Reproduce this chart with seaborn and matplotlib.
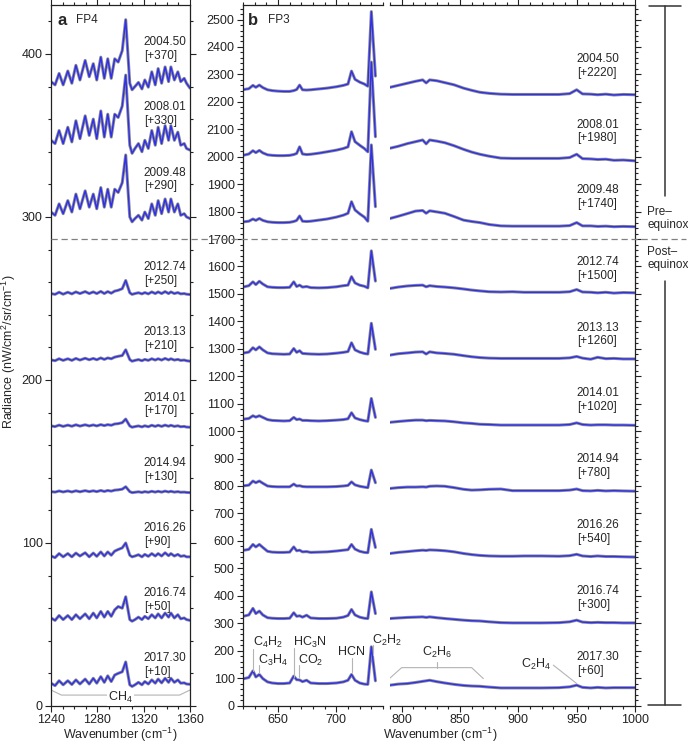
import numpy as np
import seaborn as sns
import matplotlib.pyplot as plt
from matplotlib.lines import Line2D
from matplotlib.ticker import MultipleLocator

sns.set_theme(style="ticks")
plt.rcParams["font.family"] = ["Liberation Sans", "DejaVu Sans"]
plt.rcParams["mathtext.fontset"] = "custom"
plt.rcParams["mathtext.rm"] = "Liberation Sans"
plt.rcParams["mathtext.it"] = "Liberation Sans:italic"
plt.rcParams["mathtext.bf"] = "Liberation Sans:bold"

# ---- data (radiance, nW/cm2/sr/cm-1, without the plotting offset) ----
dates = ["2004.50", "2008.01", "2009.48", "2012.74", "2013.13",
         "2014.01", "2014.94", "2016.26", "2016.74", "2017.30"]
pre_equinox = [True, True, True, False, False, False, False, False, False, False]
fp4_offsets = [370, 330, 290, 250, 210, 170, 130, 90, 50, 10]
fp3_offsets = [2220, 1980, 1740, 1500, 1260, 1020, 780, 540, 300, 60]

# FP4 (CH4 band)
fp4_wn = [1240, 1243.5, 1247, 1250.5, 1254.5, 1258, 1261.5, 1265, 1269.5, 1273,
          1276.5, 1279.5, 1283, 1286, 1289, 1292, 1295, 1298, 1301.5, 1304.5,
          1308, 1310, 1312.5, 1315.5, 1318.5, 1321, 1324, 1327, 1330, 1332.5,
          1335.5, 1338.5, 1341.5, 1343.5, 1346.5, 1349.5, 1352, 1355, 1357, 1360]
fp4_2004_50 = [13, 11, 18, 11, 19.5, 12, 23, 14, 26, 16, 24, 14, 28, 15, 27, 15, 27, 25, 32, 51,
               12, 8, 10, 12.5, 8.5, 14, 9.6, 19, 11, 21, 12, 22, 13, 22, 14, 19, 13, 15, 12, 9]
fp4_2008_01 = [17, 15, 23, 15, 25, 16, 29, 18, 32, 20, 30, 18, 35, 19, 33, 19, 33, 31, 38, 57,
               14, 9, 12, 15, 10, 17, 12, 23, 14, 25, 15, 26, 17, 26, 17, 22, 14, 15, 12, 11]
fp4_2009_48 = [13, 11, 18, 12, 20, 13, 24, 15, 26, 16, 24, 15, 28, 16, 27, 16, 27, 25, 31, 48,
               10, 7, 9, 11, 8, 13, 9, 18, 11, 20, 12, 21, 13, 21, 13, 18, 11, 12, 10, 9]
fp4_2012_74 = [3, 2.5, 3.8, 2.6, 3.8, 2.8, 4, 3, 4.2, 3, 4, 3, 4.3, 3, 4.2, 3.2, 4.5, 5, 6, 11,
               3.5, 2.5, 3, 3.5, 2.8, 3.6, 2.8, 4, 3, 4, 3, 4.2, 3, 4, 3, 3.6, 2.8, 3, 2.6, 2.4]
fp4_2013_13 = [2.3, 1.8, 3, 2, 3, 2, 3.2, 2.2, 3.3, 2.4, 3.2, 2.4, 3.5, 2.6, 3.5, 3, 4, 4.5, 5, 8.5,
               2.5, 1.5, 2, 2.5, 1.8, 2.6, 2, 3, 2.2, 3, 2.2, 3.2, 2.3, 3, 2.2, 2.6, 2, 2.2, 1.8, 1.5]
fp4_2014_01 = [1.8, 1.4, 2.3, 1.5, 2.3, 1.6, 2.5, 1.7, 2.5, 1.8, 2.4, 1.8, 2.6, 2, 2.6, 2.2, 3, 3.2, 3.8, 6,
               1.8, 1, 1.4, 1.8, 1.2, 1.9, 1.3, 2.2, 1.5, 2.2, 1.5, 2.3, 1.6, 2.2, 1.5, 1.9, 1.3, 1.5, 1.1, 1]
fp4_2014_94 = [1.5, 1.2, 1.9, 1.3, 1.9, 1.3, 2, 1.4, 2.1, 1.5, 2, 1.5, 2.2, 1.6, 2.2, 1.8, 2.4, 2.6, 3, 4.5,
               1.5, 0.9, 1.1, 1.4, 1, 1.5, 1.1, 1.7, 1.2, 1.7, 1.2, 1.8, 1.3, 1.7, 1.2, 1.5, 1.1, 1.2, 1, 0.9]
fp4_2016_26 = [2, 1, 3.5, 1.5, 3.5, 1.5, 3.8, 2, 4, 1.5, 3.8, 1.8, 4.5, 2, 4.5, 2.5, 5, 6, 7, 10,
               2.5, 1.5, 2, 2.8, 1.5, 3, 1.8, 3.5, 2, 3.5, 2, 4, 2.2, 3.5, 2, 3, 1.8, 2.2, 1.5, 1.5]
fp4_2016_74 = [4, 2.5, 5.5, 3, 5.5, 3, 6, 3.5, 6.5, 3.5, 7, 4, 8, 4.5, 8, 5, 9, 11, 10, 17,
               3, 2, 3, 4.5, 3, 5, 3.5, 6, 4, 6.5, 4, 7, 4.5, 7, 4, 6, 3.5, 4, 3, 2.5]
fp4_2017_30 = [4, 2.5, 5.5, 3, 5.5, 3.2, 6, 3.5, 6.5, 3.5, 7, 4, 8, 4.5, 8.5, 5, 9, 10, 11, 17,
               3, 2, 3, 4.5, 3, 5, 3.5, 6, 4, 6.5, 4.2, 7, 4.5, 7, 4.5, 6, 4, 4.2, 3.5, 3.3]
fp4_series = [fp4_2004_50, fp4_2008_01, fp4_2009_48, fp4_2012_74, fp4_2013_13,
              fp4_2014_01, fp4_2014_94, fp4_2016_26, fp4_2016_74, fp4_2017_30]

# FP3, 620-740 cm-1
fp3a_wn = [621, 625, 628.5, 631, 634, 637, 641, 645, 650, 655, 660, 663.5, 666, 668.5, 671,
           674.5, 678, 685, 692, 700, 706, 710, 713, 716, 720, 724, 727, 730, 733.5]
fp3a_2004_50 = [25, 28, 40, 33, 41, 32, 24, 21, 19, 18, 18, 21, 25, 41, 24,
                23, 24, 27, 30, 35, 40, 45, 92, 62, 52, 45, 37, 309, 74]
fp3a_2008_01 = [26, 30, 42, 35, 43, 34, 27, 25, 24, 24, 25, 28, 32, 56, 30,
                28, 29, 33, 38, 44, 50, 56, 111, 75, 62, 50, 38, 365, 93]
fp3a_2009_48 = [23, 25, 33, 28, 35, 28, 23, 21, 20, 20, 21, 24, 28, 44, 25,
                24, 25, 29, 33, 40, 47, 54, 96, 66, 52, 40, 25, 303, 78]
fp3a_2012_74 = [26, 30, 44, 34, 46, 36, 26, 24, 23, 23, 24, 44, 27, 32, 25,
                27, 23, 22, 23, 26, 30, 32, 63, 40, 32, 28, 22, 157, 47]
fp3a_2013_13 = [25, 28, 44, 36, 47, 36, 25, 22, 21, 20, 21, 41, 27, 33, 23,
                22, 21, 20, 21, 24, 27, 30, 62, 36, 28, 23, 21, 133, 38]
fp3a_2014_01 = [24, 26, 36, 31, 36, 30, 22, 19, 18, 17, 18, 30, 22, 24, 19,
                19, 18, 17, 18, 20, 22, 25, 47, 28, 22, 18, 16, 99, 30]
fp3a_2014_94 = [21, 23, 38, 32, 38, 30, 20, 18, 17, 17, 17, 27, 20, 21, 18,
                17, 17, 17, 17, 18, 20, 22, 35, 24, 19, 16, 14, 78, 32]
fp3a_2016_26 = [26, 29, 47, 38, 47, 36, 22, 19, 18, 18, 19, 38, 24, 26, 20,
                21, 18, 19, 20, 23, 26, 28, 47, 30, 22, 18, 17, 102, 36]
fp3a_2016_74 = [26, 30, 54, 35, 44, 30, 20, 18, 17, 17, 18, 38, 25, 27, 22,
                29, 19, 17, 17, 18, 22, 28, 50, 30, 22, 18, 17, 114, 35]
fp3a_2017_30 = [38, 42, 66, 44, 53, 38, 26, 22, 20, 20, 22, 47, 34, 33, 27,
                32, 22, 20, 20, 22, 26, 32, 53, 32, 22, 18, 17, 154, 30]
fp3a_series = [fp3a_2004_50, fp3a_2008_01, fp3a_2009_48, fp3a_2012_74, fp3a_2013_13,
               fp3a_2014_01, fp3a_2014_94, fp3a_2016_26, fp3a_2016_74, fp3a_2017_30]

# FP3, 790-1000 cm-1
fp3b_wn = [790, 797, 805, 812, 818, 821, 824, 830, 837, 845, 853, 860, 867, 875,
           885, 895, 905, 920, 935, 944, 950, 955, 962, 968, 975, 982, 990, 1000]
fp3b_2004_50 = [33, 40, 48, 55, 60, 49, 60, 57, 50, 42, 30, 22, 15, 11,
                8, 7, 7, 7, 7, 10, 24, 9, 8, 6, 8, 5, 7, 6]
fp3b_2008_01 = [51, 58, 68, 75, 81, 67, 81, 77, 71, 60, 47, 37, 29, 22,
                15, 14, 14, 14, 14, 17, 29, 13, 12, 10, 11, 7, 8, 5]
fp3b_2009_48 = [35, 43, 53, 62, 64, 54, 63, 59, 54, 42, 29, 24, 20, 13,
                8, 7, 7, 7, 7, 9, 20, 8, 8, 6, 7, 5, 6, 5]
fp3b_2012_74 = [20, 25, 29, 31, 32, 26, 30, 27, 25, 22, 18, 14, 11, 8,
                7, 8, 6, 6, 6, 8, 16, 7, 6, 4, 6, 3, 5, 4]
fp3b_2013_13 = [17, 22, 25, 28, 29, 21, 29, 25, 23, 20, 15, 11, 8, 6,
                5, 5, 5, 5, 5, 7, 12, 6, 2, 9, 4, 5, 3, 3]
fp3b_2014_01 = [12, 15, 18, 20, 20, 18, 19, 18, 17, 14, 10, 8, 5, 4,
                2, 2, 2, 2, 2, 4, 10, 4, 2, 3, 3, 2, 2, 1]
fp3b_2014_94 = [11, 14, 16, 16, 17, 16, 19, 20, 19, 14, 8, 5, 6, 8,
                9, 3, 3, 3, 3, 5, 9, 3, 2, 4, 2, 3, 2, 1]
fp3b_2016_26 = [14, 18, 21, 24, 26, 25, 27, 26, 24, 20, 14, 10, 7, 5,
                4, 4, 5, 5, 4, 6, 11, 5, 3, 5, 3, 3, 2, 1]
fp3b_2016_74 = [17, 19, 21, 22, 23, 21, 23, 20, 17, 14, 11, 9, 8, 5,
                2, 1, 1, 1, 2, 5, 11, 4, 2, 3, 2, 2, 1, 1]
fp3b_2017_30 = [14, 18, 20, 24, 28, 30, 32, 27, 22, 17, 13, 11, 10, 7,
                4, 4, 4, 4, 5, 8, 14, 6, 4, 6, 4, 5, 5, 5]
fp3b_series = [fp3b_2004_50, fp3b_2008_01, fp3b_2009_48, fp3b_2012_74, fp3b_2013_13,
               fp3b_2014_01, fp3b_2014_94, fp3b_2016_26, fp3b_2016_74, fp3b_2017_30]

obs_color = "#8c8c8c"
mod_color = "#2e2ef0"
W, H = 688, 746

fig = plt.figure(figsize=(W / 100, H / 100), dpi=100)


def px_axes(l, r, t, b):
    ax = fig.add_axes([l / W, 1 - b / H, (r - l) / W, (b - t) / H])
    ax.patch.set_alpha(0)
    return ax


ax_a = px_axes(51, 190, 5, 706)
ax_b1 = px_axes(243, 383, 5, 705.5)
ax_b2 = px_axes(390, 635, 5, 705.5)


def draw(ax, wn, vals, off):
    y = np.asarray(vals, dtype=float) + off
    sns.lineplot(x=wn, y=y, ax=ax, color=obs_color, lw=2.2, estimator=None, sort=False)
    sns.lineplot(x=wn, y=y, ax=ax, color=mod_color, lw=1.0, estimator=None, sort=False)


for i, d in enumerate(dates):
    draw(ax_a, fp4_wn, fp4_series[i], fp4_offsets[i])
    draw(ax_b1, fp3a_wn, fp3a_series[i], fp3_offsets[i])
    draw(ax_b2, fp3b_wn, fp3b_series[i], fp3_offsets[i])
    ya = fp4_offsets[i] + (33 if pre_equinox[i] else 15)
    ax_a.text(1320, ya, f"{d}\n[+{fp4_offsets[i]}]", fontsize=8.5, ha="left", va="center",
              linespacing=1.2)
    yb = fp3_offsets[i] + (112 if pre_equinox[i] else 92)
    ax_b2.text(950, yb, f"{d}\n[+{fp3_offsets[i]}]", fontsize=8.5, ha="left", va="center",
               linespacing=1.2)

# axes styling
ax_a.set_xlim(1240, 1360)
ax_a.set_ylim(0, 430)
ax_b1.set_xlim(620, 740)
ax_b2.set_xlim(790, 1000)
for ax in (ax_b1, ax_b2):
    ax.set_ylim(0, 2553)

ax_a.xaxis.set_major_locator(MultipleLocator(40))
ax_a.xaxis.set_minor_locator(MultipleLocator(10))
ax_a.yaxis.set_major_locator(MultipleLocator(100))
ax_a.yaxis.set_minor_locator(MultipleLocator(20))
ax_b1.xaxis.set_major_locator(MultipleLocator(50))
ax_b1.xaxis.set_minor_locator(MultipleLocator(10))
ax_b2.xaxis.set_major_locator(MultipleLocator(50))
ax_b2.xaxis.set_minor_locator(MultipleLocator(10))
for ax in (ax_b1, ax_b2):
    ax.yaxis.set_major_locator(MultipleLocator(100))
    ax.yaxis.set_minor_locator(MultipleLocator(20))

for ax in (ax_a, ax_b1, ax_b2):
    ax.set_xlabel("")
    ax.set_ylabel("")
    for s in ax.spines.values():
        s.set_linewidth(0.9)
        s.set_color("#222222")
    ax.tick_params(which="both", direction="out", top=True, colors="#222222",
                   labelsize=9, width=0.8, pad=2)
    ax.tick_params(which="major", length=4)
    ax.tick_params(which="minor", length=2)

ax_a.tick_params(which="both", right=True, labelright=False)
ax_b1.spines["right"].set_visible(False)
ax_b1.tick_params(which="both", right=False)
ax_b2.spines["left"].set_visible(False)
ax_b2.tick_params(which="both", left=False, labelleft=False, right=True, labelright=False)

# panel letters
ax_a.text(0.05, 0.978, "a", transform=ax_a.transAxes, fontsize=12, fontweight="bold",
          va="center", ha="left")
ax_a.text(0.18, 0.978, "FP4", transform=ax_a.transAxes, fontsize=8.5, va="center", ha="left")
ax_b1.text(0.036, 0.978, "b", transform=ax_b1.transAxes, fontsize=12, fontweight="bold",
           va="center", ha="left")
ax_b1.text(0.18, 0.978, "FP3", transform=ax_b1.transAxes, fontsize=8.5, va="center", ha="left")

# molecule annotations
lc = "#b4b4b4"
ax_a.plot([1240, 1249, 1351, 1360], [9.8, 6.7, 6.7, 9.8], color=lc, lw=0.8)
ax_a.text(1300, 5.2, "CH$_4$", fontsize=9, ha="center", va="center",
          bbox=dict(facecolor="white", edgecolor="none", pad=0.5))

mol_b1 = [("C$_4$H$_2$", 628.7, 228, "left", 205, 125),
          ("C$_3$H$_4$", 633.5, 165, "left", 148, 118),
          ("HC$_3$N", 663.7, 230, "left", 208, 104),
          ("CO$_2$", 668, 165, "left", 147, 105),
          ("HCN", 713, 195, "center", 173, 122),
          ("C$_2$H$_2$", 731, 238, "left", 220, 183)]
for name, x, y, ha, l0, l1 in mol_b1:
    ax_b1.plot([x, x], [l0, l1], color=lc, lw=0.8)
    ax_b1.text(x - 0.5 if ha == "left" else x, y, name, fontsize=9, ha=ha, va="center",
               clip_on=False, zorder=5)

ax_b2.plot([790, 800, 860, 870], [100, 138, 138, 98], color=lc, lw=0.8)
ax_b2.plot([830, 830], [138, 160], color=lc, lw=0.8)
ax_b2.text(830, 192, "C$_2$H$_6$", fontsize=9, ha="center", va="center")
ax_b2.plot([930, 950], [147, 80], color=lc, lw=0.8)
ax_b2.text(928, 150, "C$_2$H$_4$", fontsize=9, ha="right", va="center")

# axis labels
fig.text(120 / W, 2 / H, "Wavenumber (cm$^{-1}$)", fontsize=9, ha="center", va="bottom")
fig.text(440 / W, 2 / H, "Wavenumber (cm$^{-1}$)", fontsize=9, ha="center", va="bottom")
fig.text(9 / W, 1 - 352 / H, "Radiance (nW/cm$^2$/sr/cm$^{-1}$)", fontsize=9,
         rotation=90, ha="center", va="center")

# equinox divider and brackets
yd = 1 - 239 / H
fig.add_artist(Line2D([51 / W, 686 / W], [yd, yd], transform=fig.transFigure,
                      ls=(0, (5, 3)), color="#808080", lw=0.9))
bc = "#333333"
for xs, ys in [([649, 681], [5.5, 5.5]), ([665, 665], [5.5, 196]),
               ([665, 665], [281, 705]), ([648, 681], [705, 705])]:
    fig.add_artist(Line2D([x / W for x in xs], [1 - y / H for y in ys],
                          transform=fig.transFigure, color=bc, lw=1.1))
fig.text(647 / W, 1 - 218.5 / H, "Pre–\nequinox", fontsize=8.5, ha="left", va="center",
         linespacing=1.15)
fig.text(647 / W, 1 - 258.5 / H, "Post–\nequinox", fontsize=8.5, ha="left", va="center",
         linespacing=1.15)

fig.savefig("out.png", dpi=100)
